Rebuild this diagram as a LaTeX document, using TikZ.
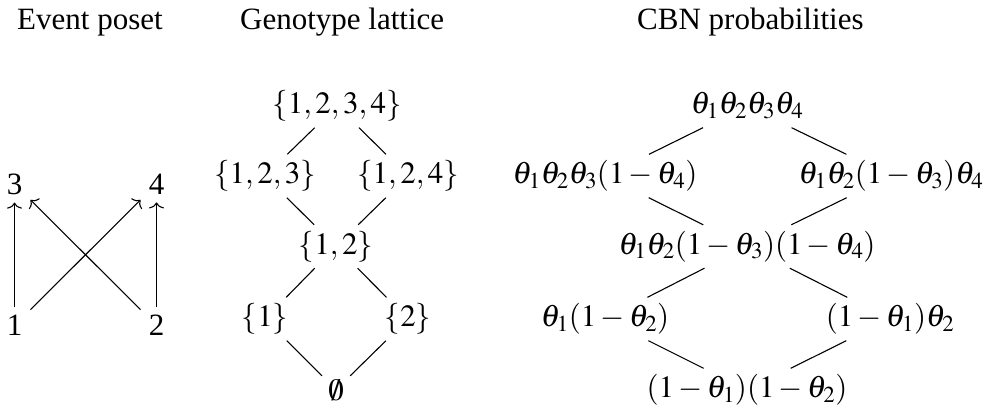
\documentclass[tikz,border=0pt]{standalone}
\usepackage{mathptmx}
\usepackage{fontspec}
\setmainfont{Liberation Serif}
\usetikzlibrary{arrows.meta}
\begin{document}
\begin{tikzpicture}[x=1pt,y=-1pt,
  every node/.style={font=\fontsize{31}{37}\selectfont},
  latnode/.style={text height=23pt,text depth=8pt,inner xsep=6pt,inner ysep=6pt},
  posnode/.style={inner sep=8pt},
  ttlnode/.style={anchor=base west,inner sep=0pt},
  edgeline/.style={line width=1.1pt},
  arrline/.style={line width=1.1pt,-{To[length=6pt,width=15pt]}}]
\useasboundingbox (0,0) rectangle (989,408);
% titles
\node[ttlnode] (t1) at (17,29) {Event poset};
\node[ttlnode] (t2) at (240,29) {Genotype lattice};
\node[ttlnode] (t3) at (637,29) {CBN probabilities};
% poset
\node[posnode] (p3) at (14.5,184) {3};
\node[posnode] (p4) at (156.5,184) {4};
\node[posnode] (p1) at (14.5,325.5) {1};
\node[posnode] (p2) at (156.5,325.5) {2};
\draw[arrline] (p1) -- (p3);
\draw[arrline] (p2) -- (p4);
\draw[arrline] (p1) -- (p4);
\draw[arrline] (p2) -- (p3);
% lattice
\node[latnode] (L1234) at (337,106) {$\{1,2,3,4\}$};
\node[latnode] (L123) at (265,176) {$\{1,2,3\}$};
\node[latnode] (L124) at (408,176) {$\{1,2,4\}$};
\node[latnode] (L12) at (336,246.5) {$\{1,2\}$};
\node[latnode] (L1) at (265,319) {$\{1\}$};
\node[latnode] (L2) at (408,319) {$\{2\}$};
\node[inner xsep=7pt,inner ysep=3pt,anchor=base] (L0) at (336,400) {$\emptyset$};
\draw[edgeline] (L1234) -- (L123);
\draw[edgeline] (L1234) -- (L124);
\draw[edgeline] (L123) -- (L12);
\draw[edgeline] (L124) -- (L12);
\draw[edgeline] (L12) -- (L1);
\draw[edgeline] (L12) -- (L2);
\draw[edgeline] (L1) -- (L0);
\draw[edgeline] (L2) -- (L0);
% CBN
\node[latnode] (C1) at (747,106) {$\theta_1\theta_2\theta_3\theta_4$};
\node[latnode] (C2) at (605,176) {$\theta_1\theta_2\theta_3(1-\theta_4)$};
\node[latnode] (C3) at (891,176) {$\theta_1\theta_2(1-\theta_3)\theta_4$};
\node[latnode] (C4) at (747,246.5) {$\theta_1\theta_2(1-\theta_3)(1-\theta_4)$};
\node[latnode] (C5) at (605,319) {$\theta_1(1-\theta_2)$};
\node[latnode] (C6) at (890,319) {$(1-\theta_1)\theta_2$};
\node[latnode] (C7) at (747,390) {$(1-\theta_1)(1-\theta_2)$};
\draw[edgeline] (C1) -- (C2);
\draw[edgeline] (C1) -- (C3);
\draw[edgeline] (C2) -- (C4);
\draw[edgeline] (C3) -- (C4);
\draw[edgeline] (C4) -- (C5);
\draw[edgeline] (C4) -- (C6);
\draw[edgeline] (C5) -- (C7);
\draw[edgeline] (C6) -- (C7);
\end{tikzpicture}
\end{document}
